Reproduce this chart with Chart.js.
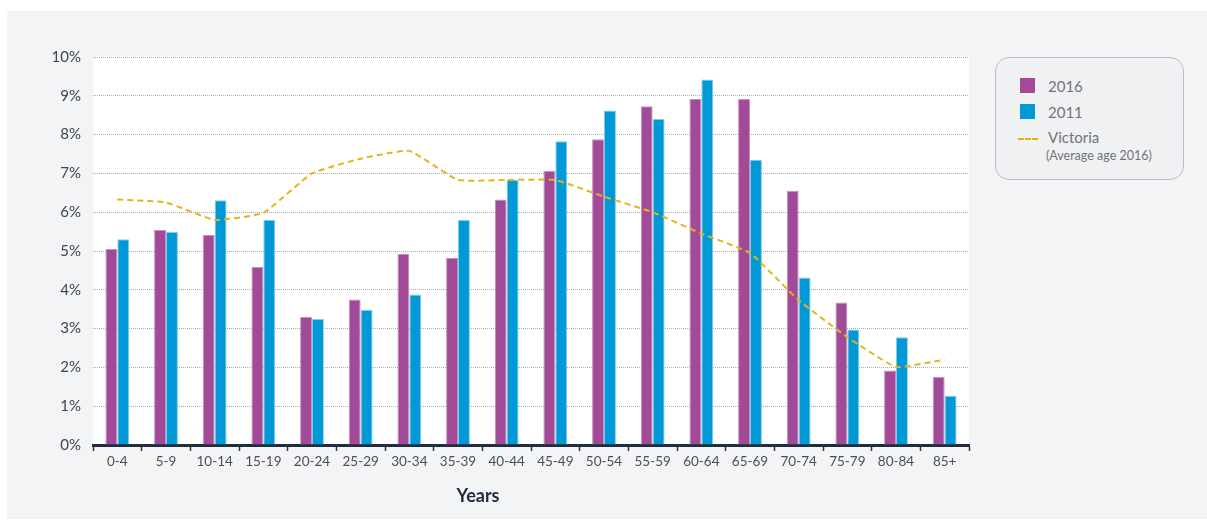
<!DOCTYPE html>
<html>
<head>
<meta charset="utf-8">
<script src="https://cdn.jsdelivr.net/npm/chart.js@4/dist/chart.umd.min.js"></script>
<style>
  body { margin: 0; background: #fff; font-family: Lato, sans-serif; }
  #panel { position: absolute; left: 7px; top: 11px; width: 1200px; height: 508px; background: #f3f4f6; }
  #wrap { position: absolute; left: 0; top: 0; width: 1207px; height: 522px; }
  #legend { position: absolute; left: 995px; top: 57px; width: 189px; height: 123px; border: 1px solid #b9bdc3;
            border-radius: 14px; background: #f0f1f2; box-sizing: border-box; }
  .sw { position: absolute; width: 15px; height: 15px; }
  .lt { position: absolute; font-size: 15px; color: #70747c; line-height: 18px; }
  #years { position: absolute; left: 420px; width: 116px; top: 484px; text-align: center; font-weight: bold;
           font-size: 18px; color: #1f2a38; }
</style>
</head>
<body>
<div id="panel"></div>
<div id="wrap"><canvas id="myChart"></canvas></div>
<div id="legend">
  <div class="sw" style="left:24px;top:20px;background:#a04a98"></div>
  <div class="lt" style="left:52px;top:19px">2016</div>
  <div class="sw" style="left:24px;top:46px;background:#0099d6"></div>
  <div class="lt" style="left:52px;top:45px">2011</div>
  <div style="position:absolute;left:22px;top:80px;width:20px;border-top:2px dashed #e8b31a"></div>
  <div class="lt" style="left:52px;top:70px">Victoria</div>
  <div class="lt" style="left:50px;top:89px;font-size:12.5px">(Average age 2016)</div>
</div>
<div id="years">Years</div>
<script>
// age groups and shares (%)
var ageGroups = ["0-4", "5-9", "10-14", "15-19", "20-24", "25-29", "30-34", "35-39", "40-44",
                 "45-49", "50-54", "55-59", "60-64", "65-69", "70-74", "75-79", "80-84", "85+"];
var share2016 = [5.05, 5.54, 5.41, 4.59, 3.30, 3.75, 4.92, 4.82, 6.33, 7.07, 7.88, 8.73, 8.92, 8.92, 6.55, 3.67, 1.92, 1.75];
var share2011 = [5.30, 5.49, 6.31, 5.80, 3.25, 3.48, 3.88, 5.80, 6.83, 7.83, 8.62, 8.40, 9.42, 7.35, 4.32, 2.98, 2.78, 1.27];
var victoria  = [6.33, 6.25, 5.80, 5.98, 7.00, 7.38, 7.58, 6.83, 6.83, 6.83, 6.40, 6.00, 5.45, 4.95, 3.73, 2.78, 2.01, 2.20];
var yTicks = [0, 1, 2, 3, 4, 5, 6, 7, 8, 9, 10];

var whiteArea = {
  id: 'whiteArea',
  beforeDraw: function(chart) {
    var a = chart.chartArea, ctx = chart.ctx;
    ctx.save();
    ctx.fillStyle = '#ffffff';
    ctx.fillRect(a.left, a.top, a.right - a.left, a.bottom - a.top);
    ctx.restore();
  }
};

var ctx = document.getElementById('myChart').getContext('2d');
var chart = new Chart(ctx, {
  type: 'bar',
  data: {
    labels: ageGroups,
    datasets: [
      {
        type: 'line',
        label: 'Victoria (Average age 2016)',
        data: victoria,
        borderColor: '#e8b31a',
        borderWidth: 2,
        borderDash: [6, 4],
        pointRadius: 0,
        tension: 0.12,
        fill: false,
        order: 0
      },
      {
        label: '2016',
        data: share2016,
        backgroundColor: '#a04a98',
        borderColor: '#c98fc3',
        borderWidth: 1,
        categoryPercentage: 0.49,
        barPercentage: 1.0,
        order: 1
      },
      {
        label: '2011',
        data: share2011,
        backgroundColor: '#0099d6',
        borderColor: '#80ccec',
        borderWidth: 1,
        categoryPercentage: 0.49,
        barPercentage: 1.0,
        order: 1
      }
    ]
  },
  options: {
    responsive: true,
    maintainAspectRatio: false,
    animation: false,
    layout: { padding: { left: 0, top: 57, right: 238, bottom: 0 } },
    plugins: { legend: { display: false }, tooltip: { enabled: false } },
    scales: {
      x: {
        afterFit: function(s) { s.height = 77; },
        grid: { display: true, drawOnChartArea: false, drawTicks: true, tickLength: 6, tickColor: '#2b3440', tickWidth: 1.5 },
        border: { display: true, color: '#1f2d3d', width: 3 },
        ticks: { color: '#4a4f57', font: { family: 'Lato', size: 13.5 }, padding: 3, maxRotation: 0, autoSkip: false }
      },
      y: {
        min: 0,
        max: 10,
        afterFit: function(s) { s.width = 93; },
        afterBuildTicks: function(s) { s.ticks = yTicks.map(function(v) { return { value: v }; }); },
        grid: { color: '#a9aeb4', lineWidth: 1, drawTicks: false },
        border: { display: false, dash: [1, 1] },
        ticks: {
          color: '#3d4550',
          font: { family: 'Lato', size: 15 },
          padding: 12,
          callback: function(v) { return v + '%'; }
        }
      }
    }
  },
  plugins: [whiteArea]
});
</script>
</body>
</html>
